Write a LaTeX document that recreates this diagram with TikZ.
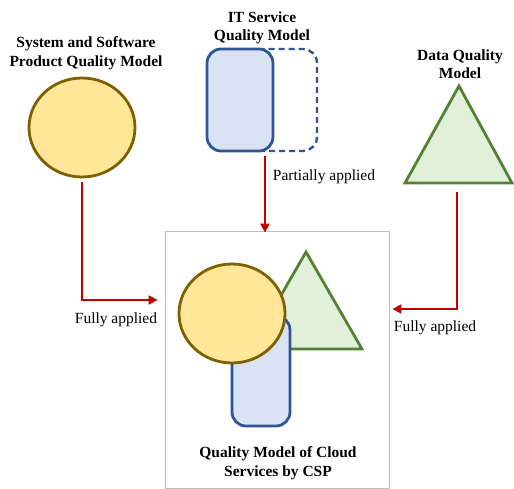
\documentclass[tikz,border=0pt]{standalone}
\usepackage{fontspec}
\setmainfont{Liberation Serif}
\usetikzlibrary{arrows.meta}
\definecolor{yfill}{HTML}{FFE699}
\definecolor{ydraw}{HTML}{7F6000}
\definecolor{bfill}{HTML}{DAE3F3}
\definecolor{bdraw}{HTML}{2F5597}
\definecolor{gfill}{HTML}{E2F0D9}
\definecolor{gdraw}{HTML}{548235}
\definecolor{arrowred}{HTML}{C00000}
\tikzset{
  title/.style={font=\fontsize{15.5}{18.5}\selectfont\bfseries, align=center},
  lbl/.style={font=\fontsize{15.5}{18}\selectfont},
  circ/.style={draw=ydraw, fill=yfill, line width=2.8pt},
  blk/.style={draw=bdraw, fill=bfill, line width=2.8pt, rounded corners=14pt},
  tri/.style={draw=gdraw, fill=gfill, line width=2.8pt, line join=miter},
  link/.style={draw=arrowred, line width=2.6pt, -{Triangle[length=9pt,width=9pt]}},
}
\begin{document}
\begin{tikzpicture}[x=1pt,y=-1pt]
\useasboundingbox (0,0) rectangle (514,489);

% system and software product quality model
\node[title] (t1) at (86,53) {System and Software\\Product Quality Model};
\draw[circ] (82,127.5) ellipse [x radius=53, y radius=49.5];
\coordinate (c1) at (82,182);

% IT service quality model
\node[title] (t2) at (262,28) {IT Service\\Quality Model};
\draw[draw=bdraw, line width=2.4pt, dashed, dash pattern=on 6pt off 4pt, rounded corners=14pt] (251,49) rectangle (317,151);
\draw[blk] (207,49) rectangle (273,151);
\coordinate (c2) at (265,156);

% data quality model
\node[title] (t3) at (460,64) {Data Quality\\Model};
\draw[tri] (459,86) -- (512,183) -- (405,183) -- cycle;
\coordinate (c3) at (457,192);

% cloud service model
\node[draw=black!25, line width=0.8pt, minimum width=224, minimum height=257, inner sep=0] (box) at (277,359.5) {};
\draw[tri] (306,252) -- (362,349) -- (250,349) -- cycle;
\draw[blk] (232,316) rectangle (290,426);
\draw[circ] (232,313.5) ellipse [x radius=53, y radius=49.5];
\node[title] (t4) at (278,463) {Quality Model of Cloud\\Services by CSP};

% connectors
\coordinate (e1) at (box.west |- 0,300);
\coordinate (e3) at (box.east |- 0,309);
\draw[link] (c1) |- ([xshift=-7]e1);
\draw[link] (c2) -- ([yshift=-2]box.north -| c2);
\draw[link] (c3) |- ([xshift=3]e3);

\node[lbl] (l1) at (116,320) {Fully applied};
\node[lbl] (l2) at (324,177) {Partially applied};
\node[lbl] (l3) at (435,328) {Fully applied};
\end{tikzpicture}
\end{document}
